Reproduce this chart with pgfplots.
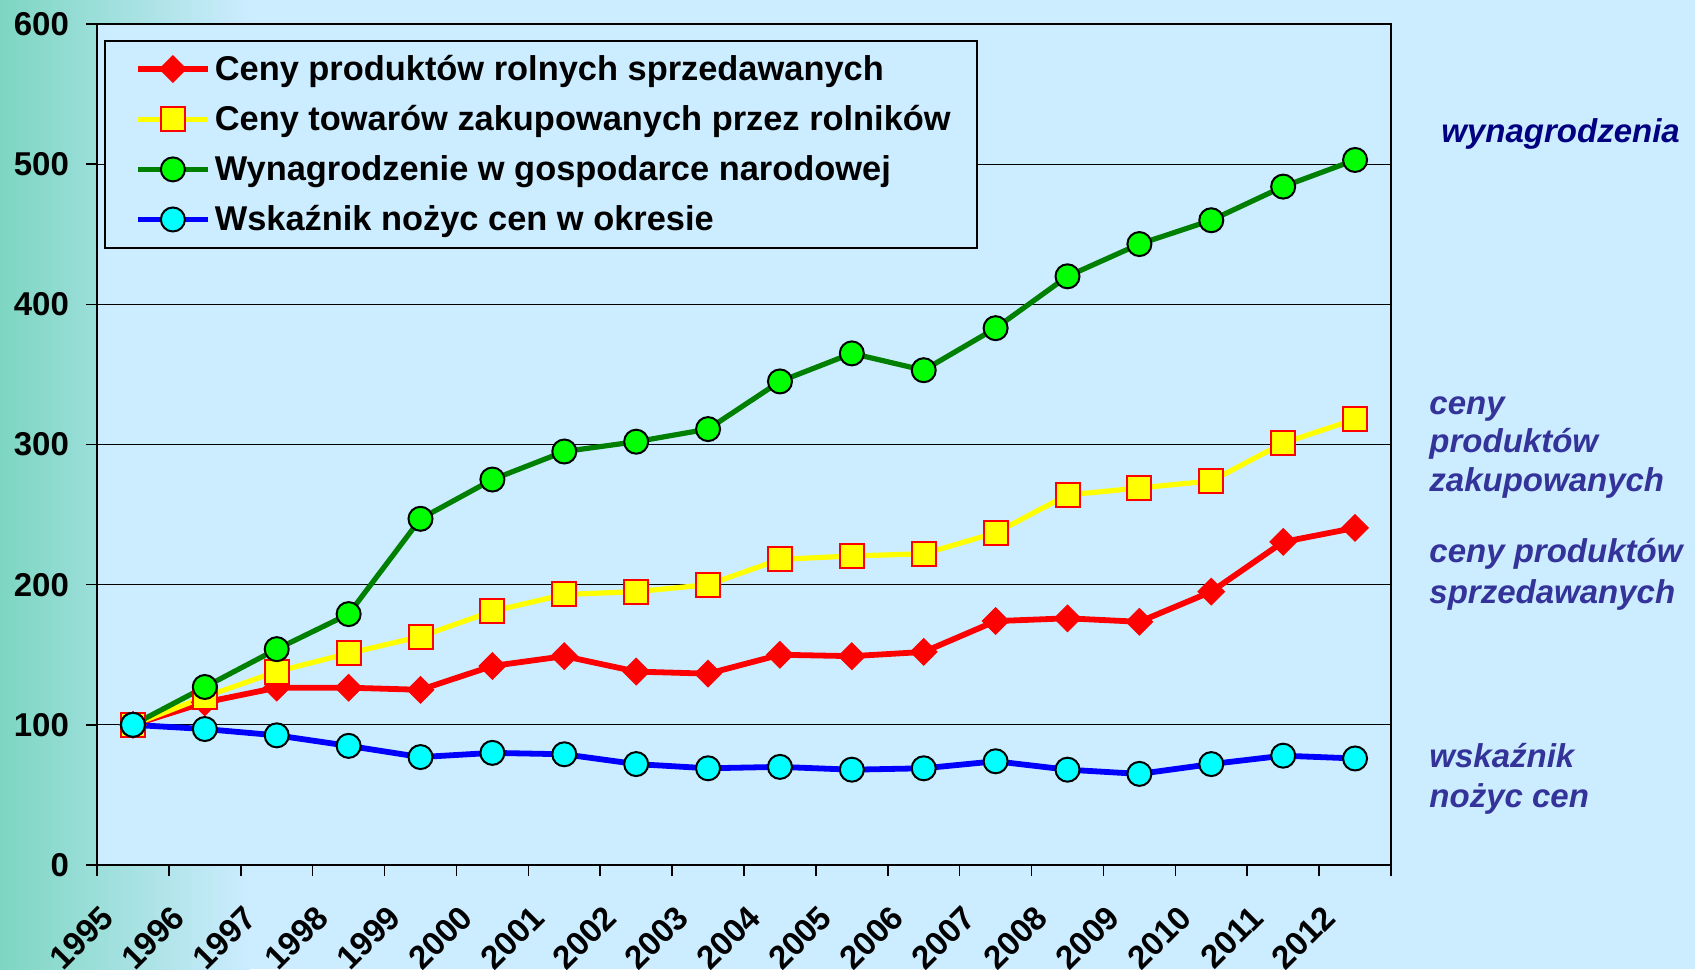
\documentclass[border=0pt]{standalone}
\usepackage{pgfplots}
\pgfplotsset{compat=1.18}
\usepackage{fontspec}
\setmainfont{Liberation Sans}
\definecolor{bgblue}{HTML}{CCECFF}
\definecolor{leftteal}{HTML}{7DD6C2}
\definecolor{navyc}{HTML}{000080}
\definecolor{annot}{HTML}{333399}
\definecolor{lgreen}{HTML}{00FF00}
\definecolor{dgreen}{HTML}{008000}
\definecolor{cyanc}{HTML}{00FFFF}
\definecolor{bluec}{HTML}{0000FF}
\definecolor{redc}{HTML}{FF0000}
\definecolor{yellowc}{HTML}{FFFF00}
\begin{document}
\begin{tikzpicture}
\useasboundingbox (0,0) rectangle (847.5pt,484.5pt);
\fill[bgblue] (0,0) rectangle (847.5pt,484.5pt);
\shade[left color=leftteal, right color=bgblue] (0,0) rectangle (125pt,484.5pt);
\begin{axis}[
  at={(48.5pt,52pt)}, anchor=south west,
  scale only axis, width=647pt, height=420.5pt,
  xmin=0, xmax=18, ymin=0, ymax=600,
  xtick={0,1,...,18},
  xticklabels={1995,1996,1997,1998,1999,2000,2001,2002,2003,2004,2005,2006,2007,2008,2009,2010,2011,2012,{}},
  ytick={0,100,...,600},
  ymajorgrids, grid style={black, line width=0.6pt},
  axis line style={black, line width=1pt},
  tick style={black, line width=0.8pt}, tick align=outside, major tick length=5.5pt,
  xtick pos=left, ytick pos=left,
  axis background/.style={fill=bgblue},
  /pgf/number format/assume math mode=true,
  ticklabel style={font=\fontsize{16.5}{18}\selectfont\bfseries},
  xticklabel style={font=\fontsize{16.5}{18}\selectfont\bfseries, yshift=-15.5pt, xshift=7.5pt, rotate=45, anchor=east},
  yticklabel style={xshift=-5pt},
  legend style={at={(0.0054,0.981)}, anchor=north west, fill=bgblue, draw=black, line width=1pt,
    font=\fontsize{17.2}{19}\selectfont\bfseries, row sep=7pt, inner xsep=11pt, inner ysep=5pt},
  legend cell align=left,
  legend image code/.code={\path (-4pt,0pt); \draw[mark repeat=2,mark phase=2] plot coordinates {(0pt,0pt)(17.5pt,0pt)(35pt,0pt)};},
]
\addplot[redc, line width=2.9pt, mark=square*, mark size=4.7pt, mark options={rotate=45, fill=redc, draw=redc, line width=0.5pt}] coordinates {
(0.5,100)(1.5,116)(2.5,126.5)(3.5,126.5)(4.5,125)(5.5,142)(6.5,149)(7.5,138)(8.5,136.5)(9.5,150)(10.5,149)(11.5,152)(12.5,174)(13.5,176)(14.5,173.5)(15.5,195)(16.5,230.5)(17.5,240.5)};
\addlegendentry{Ceny produktów rolnych sprzedawanych}
\addplot[yellowc, line width=2.6pt, mark=square*, mark size=6pt, mark options={fill=yellowc, draw=redc, line width=1pt}] coordinates {
(0.5,100)(1.5,120)(2.5,138)(3.5,151)(4.5,163)(5.5,181)(6.5,193)(7.5,195)(8.5,200)(9.5,218)(10.5,220.5)(11.5,222)(12.5,237)(13.5,264)(14.5,269)(15.5,274)(16.5,301)(17.5,318)};
\addlegendentry{Ceny towarów zakupowanych przez rolników}
\addplot[dgreen, line width=2.6pt, mark=*, mark size=6pt, mark options={fill=lgreen, draw=black, line width=1pt}] coordinates {
(0.5,100)(1.5,127)(2.5,154)(3.5,179)(4.5,247)(5.5,275)(6.5,295)(7.5,302)(8.5,311)(9.5,345)(10.5,365)(11.5,353)(12.5,383)(13.5,420)(14.5,443)(15.5,460)(16.5,484)(17.5,503)};
\addlegendentry{Wynagrodzenie w gospodarce narodowej}
\addplot[bluec, line width=2.9pt, mark=*, mark size=6pt, mark options={fill=cyanc, draw=black, line width=1pt}] coordinates {
(0.5,100)(1.5,97)(2.5,92.5)(3.5,85)(4.5,77)(5.5,80)(6.5,79)(7.5,72)(8.5,69)(9.5,70)(10.5,68)(11.5,69)(12.5,74)(13.5,68)(14.5,65)(15.5,72)(16.5,78)(17.5,76)};
\addlegendentry{Wskaźnik nożyc cen w okresie}
\end{axis}
\begin{scope}[every node/.style={anchor=base west, inner sep=0pt, font=\fontsize{16.5}{19.5}\selectfont\bfseries\itshape}]
\node[text=navyc] at (720.5pt,413pt) {wynagrodzenia};
\node[text=annot] at (714.5pt,277pt) {ceny};
\node[text=annot] at (714.5pt,258pt) {produktów};
\node[text=annot] at (714.5pt,238.5pt) {zakupowanych};
\node[text=annot] at (714.5pt,203.2pt) {ceny produktów};
\node[text=annot] at (714.5pt,182.7pt) {sprzedawanych};
\node[text=annot] at (714.5pt,101pt) {wskaźnik};
\node[text=annot] at (714.5pt,81pt) {nożyc cen};
\end{scope}
\end{tikzpicture}
\end{document}
